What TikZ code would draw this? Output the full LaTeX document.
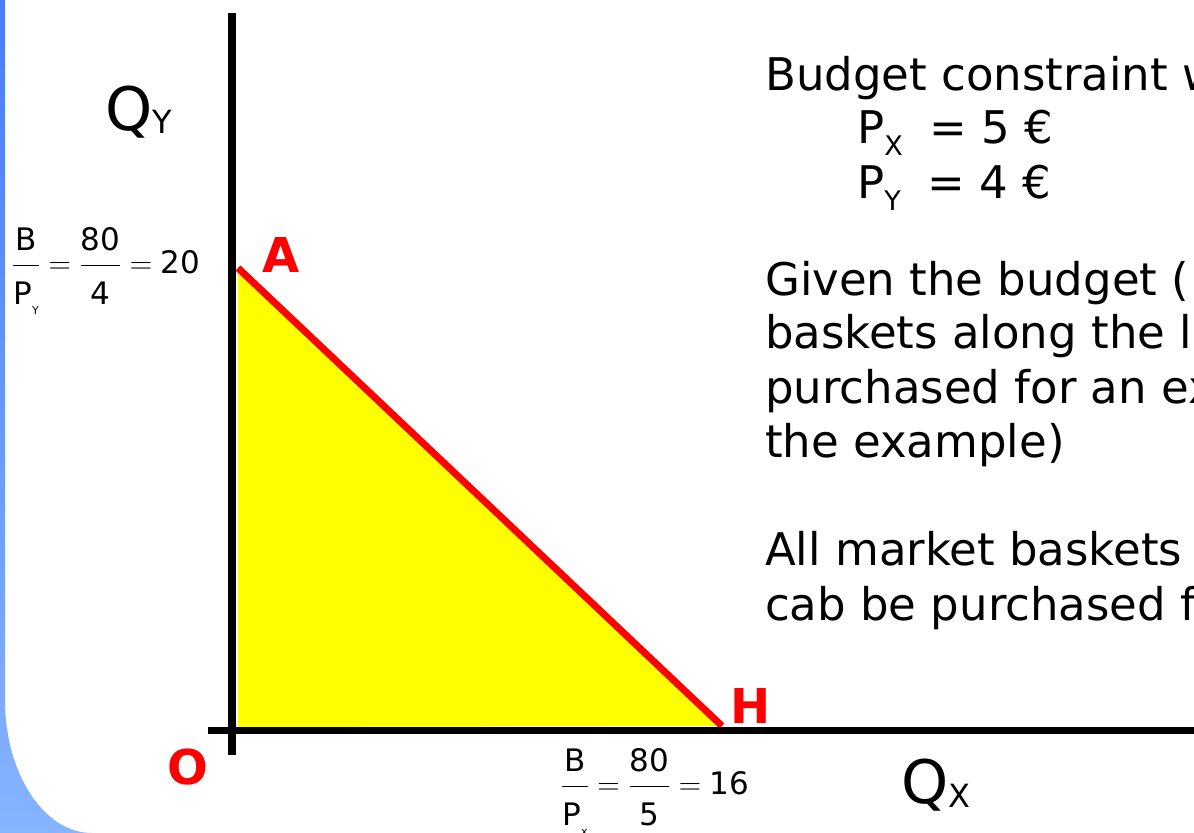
\RequirePackage{fix-cm}
\documentclass[tikz,border=0pt]{standalone}
\usepackage{amsmath}
\usepackage{fontspec}
\setmainfont{DejaVu Sans}
\definecolor{StripTop}{RGB}{70,125,255}
\definecolor{StripBottom}{RGB}{135,180,255}
\definecolor{AreaYellow}{RGB}{255,255,0}
\definecolor{LineRed}{RGB}{255,0,0}
\tikzset{
  axis/.style={line width=8bp,draw=black},
  budget/.style={line width=7bp,draw=LineRed},
  pointlabel/.style={text=LineRed,inner sep=0,
    font=\fontsize{48bp}{48bp}\selectfont\bfseries},
  body/.style={anchor=base west,inner sep=0,
    font=\fontsize{45bp}{54bp}\selectfont},
  qlabel/.style={anchor=base west,inner sep=0,
    font=\fontsize{60bp}{60bp}\selectfont},
  intercept/.style={anchor=base west,inner sep=0,
    font=\fontsize{31bp}{37bp}\selectfont}
}
% lowered small text for subscripts
\newcommand{\lowtext}[3]{\raisebox{-#1}{\fontsize{#2}{#2}\selectfont #3}}
% fraction with the wide gaps of the slide
\newcommand{\ifrac}[2]{\dfrac{\rule[-11bp]{0pt}{11bp}\text{#1}}{\rule{0pt}{36bp}\text{#2}}}

\begin{document}
\begin{tikzpicture}[x=1bp,y=-1bp]
  \useasboundingbox (0,0) rectangle (1194,833);
  \clip (0,0) rectangle (1194,833);
  % slide frame
  \shade[top color=StripTop,bottom color=StripBottom]
    (0,0) -- (5,0) -- (5,700) arc[start angle=180,end angle=90,x radius=87,y radius=133]
    -- (0,833) -- cycle;
  % budget set
  \coordinate (a) at (238,268);
  \coordinate (h) at (722,726);
  \coordinate (corner) at (238,727);
  \fill[AreaYellow] (a) -- (h) -- (corner) -- cycle;
  \draw[budget] (a) -- (h);
  % axes
  \coordinate (ytop) at (232,13);
  \coordinate (ybot) at (232,755);
  \coordinate (xleft) at (208,730);
  \coordinate (xright) at (1200,730);
  \draw[axis] (ytop) -- (ybot);
  \draw[axis,line width=7bp] (xleft) -- (xright);
  \node[pointlabel] (la) at (281,255) {A};
  \node[pointlabel] (lh) at (751,706) {H};
  \node[pointlabel] (lo) at (188,767) {O};
  \node[qlabel] (qy) at (105,130) {Q\lowtext{3bp}{32bp}{Y}};
  \node[qlabel] (qx) at (901,803) {Q\lowtext{4bp}{32bp}{X}};
  % intercepts
  \node[intercept] (iy) at (12,273)
    {$\ifrac{B}{P\lowtext{10bp}{11bp}{Y}}=\ifrac{80}{4}=\text{20}$};
  \node[intercept] (ix) at (561,794)
    {$\ifrac{B}{P\lowtext{10bp}{11bp}{x}}=\ifrac{80}{5}=\text{16}$};
  % slide text
  \node[body] (title) at (765,90) {Budget constraint w};
  \node[body] (px) at (857,143) {P\lowtext{12bp}{27bp}{X}\hspace{12bp} = 5 €};
  \node[body] (py) at (857,198) {P\lowtext{12bp}{27bp}{Y}\hspace{12bp} = 4 €};
  \node[body] (g1) at (765,295) {Given the budget (};
  \node[body] (g2) at (765,348) {baskets along the l};
  \node[body] (g3) at (765,403) {purchased for an ex};
  \node[body] (g4) at (765,457) {the example)};
  \node[body] (m1) at (765,565) {All market baskets};
  \node[body] (m2) at (765,620) {cab be purchased f};
\end{tikzpicture}
\end{document}
